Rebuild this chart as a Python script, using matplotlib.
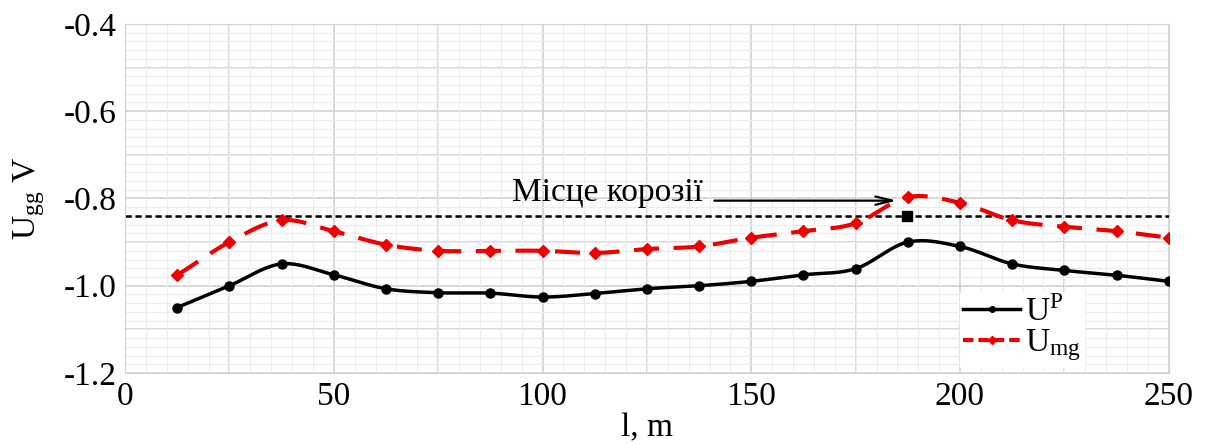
import numpy as np
import matplotlib.pyplot as plt
from matplotlib.ticker import MultipleLocator

# distance along the pipe, m
dist = [12.5, 25, 37.5, 50, 62.5, 75, 87.5, 100, 112.5, 125,
        137.5, 150, 162.5, 175, 187.5, 200, 212.5, 225, 237.5, 250]
# U_P, V
u_p = [-1.05, -1.0, -0.95, -0.975, -1.007, -1.016, -1.017, -1.026, -1.018, -1.007,
       -1.0, -0.99, -0.975, -0.961, -0.9, -0.91, -0.95, -0.965, -0.976, -0.99]
# U_mg, V
u_mg = [-0.976, -0.9, -0.85, -0.875, -0.906, -0.92, -0.92, -0.92, -0.925, -0.916,
        -0.91, -0.89, -0.875, -0.857, -0.797, -0.81, -0.85, -0.865, -0.875, -0.89]
threshold = -0.84
corrosion_x = 187.2
arrow_from = (140.5, -0.805)
arrow_to = (185.5, -0.805)


def smooth(x, y, n=20):
    # Catmull-Rom spline through the points (like Excel's smoothed line)
    x = np.asarray(x, float)
    y = np.asarray(y, float)
    px = np.concatenate([[2 * x[0] - x[1]], x, [2 * x[-1] - x[-2]]])
    py = np.concatenate([[2 * y[0] - y[1]], y, [2 * y[-1] - y[-2]]])
    xs, ys = [], []
    t = np.linspace(0, 1, n, endpoint=False)
    for i in range(1, len(px) - 2):
        for p, out in ((px, xs), (py, ys)):
            p0, p1, p2, p3 = p[i - 1], p[i], p[i + 1], p[i + 2]
            out.append(0.5 * (2 * p1 + (-p0 + p2) * t + (2 * p0 - 5 * p1 + 4 * p2 - p3) * t ** 2
                              + (-p0 + 3 * p1 - 3 * p2 + p3) * t ** 3))
    xs.append([x[-1]])
    ys.append([y[-1]])
    return np.concatenate(xs), np.concatenate(ys)


plt.rcParams['font.family'] = ['Liberation Serif', 'DejaVu Serif']
plt.rcParams['mathtext.fontset'] = 'stix'
fs = 24

fig = plt.figure(figsize=(12.08, 4.44), dpi=100)
ax = fig.add_axes([0.1035, 0.16, 0.864, 0.786])

ax.set_xlim(0, 250)
ax.set_ylim(-1.2, -0.4)
ax.xaxis.set_major_locator(MultipleLocator(50))
ax.xaxis.set_minor_locator(MultipleLocator(5))
ax.yaxis.set_major_locator(MultipleLocator(0.2))
ax.yaxis.set_minor_locator(MultipleLocator(0.02))
ax.set_axisbelow(True)
ax.grid(which='minor', color='#ececec', lw=0.8)
for xv in np.arange(0, 251, 25):
    ax.axvline(xv, color='#d2d2d2', lw=1.2, zorder=0.5)
for yv in np.arange(-1.2, -0.39, 0.1):
    ax.axhline(yv, color='#d2d2d2', lw=1.2, zorder=0.5)
for s in ax.spines.values():
    s.set_color('#d2d2d2')
ax.tick_params(which='both', length=0, labelsize=fs, pad=6)
ax.set_yticklabels([f"{v:.1f}" for v in ax.get_yticks()])

sx, sy = smooth(dist, u_p)
ax.plot(sx, sy, color='black', lw=2.5, zorder=3)
ax.plot(dist, u_p, 'o', color='black', ms=6.5, zorder=3)
sx, sy = smooth(dist, u_mg)
ax.plot(sx, sy, color='#ee0000', lw=3, ls=(0, (6, 3.5)), zorder=3)
ax.plot(dist, u_mg, 'D', color='#ee0000', ms=6.5, zorder=3)

ax.axhline(threshold, color='black', lw=1.8, ls=(0, (2.5, 1.5)), zorder=2)
ax.plot([corrosion_x], [threshold], 's', color='black', ms=7, zorder=4)
ax.annotate('', xy=arrow_to, xytext=arrow_from,
            arrowprops=dict(arrowstyle='->,head_length=1.2,head_width=0.3', color='black', lw=1.6))
ax.text(arrow_from[0] - 2, -0.788, 'Місце корозії', fontsize=fs, ha='right', va='center')

ax.set_xlabel('l, m', fontsize=fs, labelpad=1)
ax.set_ylabel('U$_{\\mathregular{gg}}$ V', fontsize=fs, labelpad=12)

h1, = ax.plot([], [], color='black', lw=2.5, marker='o', ms=4)
h2, = ax.plot([], [], color='#ee0000', lw=3, ls=(0, (2.5, 1.2)), marker='D', ms=4)
leg = ax.legend([h1, h2], ['U$^{\\mathregular{P}}$', 'U$_{\\mathregular{mg}}$'],
                loc='lower right', bbox_to_anchor=(0.935, -0.03), fontsize=fs,
                frameon=True, fancybox=False, edgecolor='white', framealpha=1,
                handlelength=1.7, handletextpad=0.15, labelspacing=0.0, borderpad=0.1)

fig.savefig('out.png', dpi=100)
